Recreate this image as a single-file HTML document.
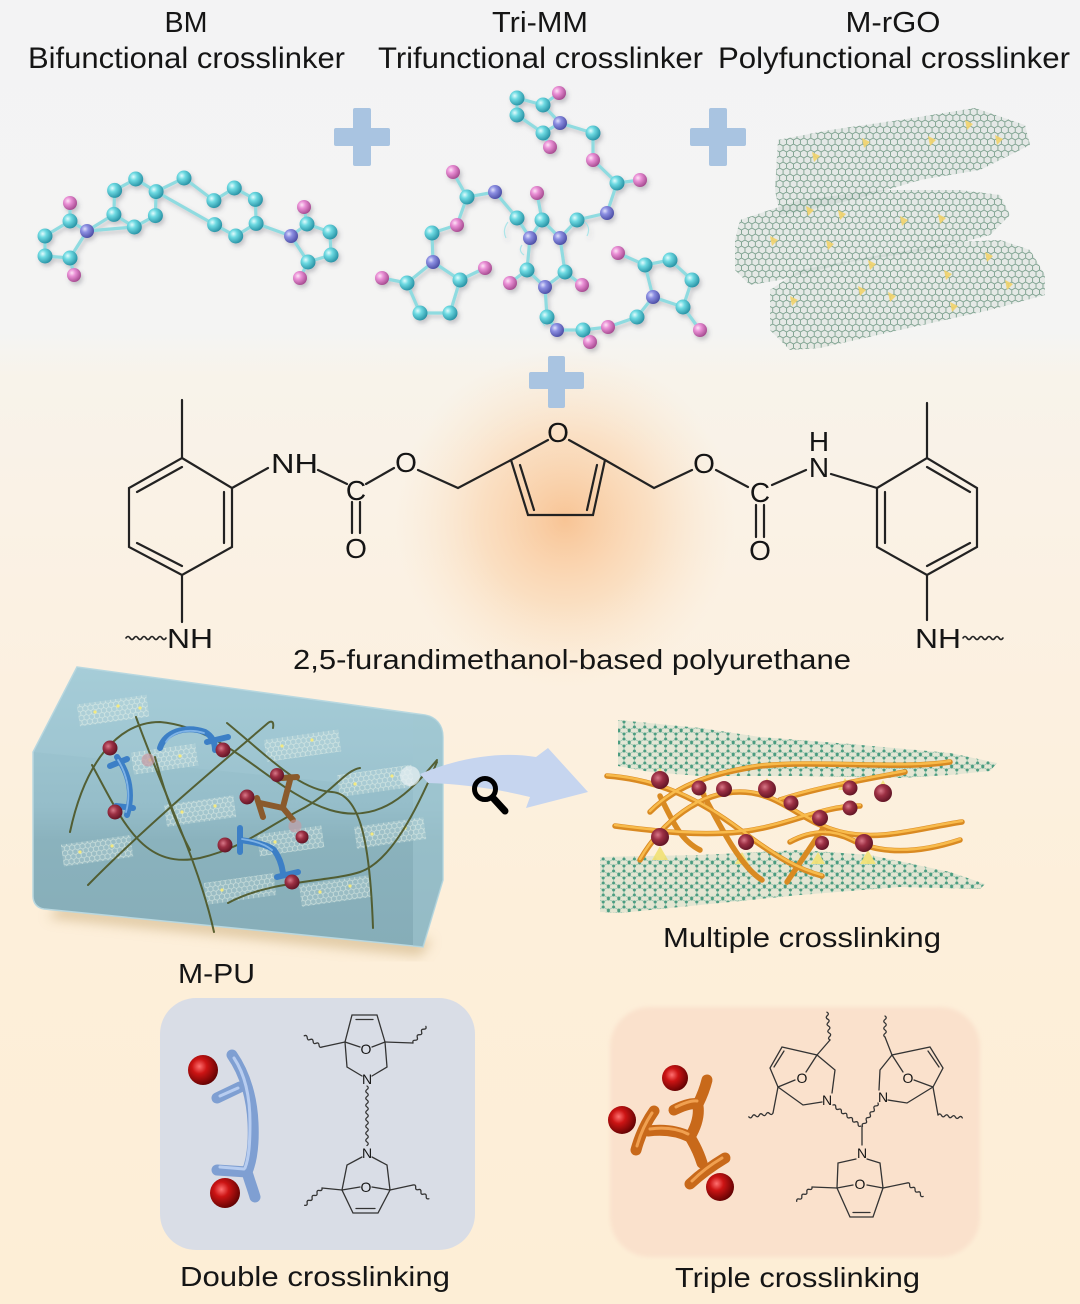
<!DOCTYPE html>
<html><head><meta charset="utf-8"><style>
html,body{margin:0;padding:0;background:#f4f4f4;}
svg{display:block;}
text{font-family:"Liberation Sans",Arial,sans-serif;fill:#151515;}
</style></head><body>
<svg width="1080" height="1304" viewBox="0 0 1080 1304" xmlns="http://www.w3.org/2000/svg">
<defs>
<linearGradient id="bg" x1="0" y1="0" x2="0" y2="1">
<stop offset="0" stop-color="#f3f3f4"/><stop offset="0.255" stop-color="#f4f4f3"/>
<stop offset="0.29" stop-color="#f8f3ea"/><stop offset="0.45" stop-color="#fbf1e3"/>
<stop offset="0.7" stop-color="#fdefda"/><stop offset="1" stop-color="#fdeed6"/>
</linearGradient>
<radialGradient id="glow" cx="565" cy="520" r="170" gradientUnits="userSpaceOnUse">
<stop offset="0" stop-color="#f8bf8c" stop-opacity="0.9"/><stop offset="0.5" stop-color="#fad0a6" stop-opacity="0.55"/>
<stop offset="1" stop-color="#fbe3c6" stop-opacity="0"/>
</radialGradient>
<radialGradient id="gc" cx=".35" cy=".35" r=".7"><stop offset="0" stop-color="#e2fcfd"/><stop offset=".35" stop-color="#6edae2"/><stop offset="1" stop-color="#2590a3"/></radialGradient>
<radialGradient id="gp" cx=".35" cy=".35" r=".7"><stop offset="0" stop-color="#fde4f6"/><stop offset=".35" stop-color="#ea90d6"/><stop offset="1" stop-color="#a4488e"/></radialGradient>
<radialGradient id="gv" cx=".35" cy=".35" r=".7"><stop offset="0" stop-color="#e0e0fb"/><stop offset=".35" stop-color="#8c8fe2"/><stop offset="1" stop-color="#4a4ca4"/></radialGradient>
<radialGradient id="gr" cx=".38" cy=".38" r=".7"><stop offset="0" stop-color="#ff7070"/><stop offset=".35" stop-color="#cc1414"/><stop offset="1" stop-color="#560000"/></radialGradient>
<radialGradient id="gm" cx=".38" cy=".38" r=".7"><stop offset="0" stop-color="#d87888"/><stop offset=".4" stop-color="#9c3044"/><stop offset="1" stop-color="#581020"/></radialGradient>
<linearGradient id="boxg" x1="0" y1="0" x2="0" y2="1">
<stop offset="0" stop-color="#a4ccd7"/><stop offset="0.5" stop-color="#95bdc9"/><stop offset="0.62" stop-color="#8ab2bd"/><stop offset="1" stop-color="#86adb8"/>
</linearGradient>
<pattern id="hex" width="6.93" height="12" patternUnits="userSpaceOnUse">
<path d="M0,2 L3.46,0 L6.93,2 M0,2 L0,6 L3.46,8 L6.93,6 L6.93,2 M3.46,8 L3.46,12" fill="none" stroke="#7a9f8c" stroke-width="0.9"/>
</pattern>
<pattern id="hexw" width="5.2" height="9" patternUnits="userSpaceOnUse">
<path d="M0,1.5 L2.6,0 L5.2,1.5 M0,1.5 L0,4.5 L2.6,6 L5.2,4.5 L5.2,1.5 M2.6,6 L2.6,9" fill="none" stroke="#e8f3ea" stroke-width="0.7"/>
</pattern>
<pattern id="dots" width="10.4" height="12" patternUnits="userSpaceOnUse">
<path d="M0,2 L5.2,-1 L10.4,2 M0,2 L0,7 L5.2,10 L10.4,7 L10.4,2 M5.2,10 L5.2,13" fill="none" stroke="#8cc0aa" stroke-width="0.7"/>
<circle cx="0" cy="2" r="1.5" fill="#4b9c80"/><circle cx="10.4" cy="2" r="1.5" fill="#4b9c80"/>
<circle cx="0" cy="7" r="1.5" fill="#4b9c80"/><circle cx="10.4" cy="7" r="1.5" fill="#4b9c80"/>
<circle cx="5.2" cy="10" r="1.5" fill="#4b9c80"/><circle cx="5.2" cy="-1" r="1.5" fill="#4b9c80"/><circle cx="5.2" cy="11" r="1.5" fill="#4b9c80"/>
</pattern>
<filter id="sh" x="-20%" y="-20%" width="140%" height="140%"><feDropShadow dx="2" dy="3" stdDeviation="2" flood-color="#556" flood-opacity="0.3"/></filter>
<filter id="blur6"><feGaussianBlur stdDeviation="6"/></filter>
<filter id="blur2"><feGaussianBlur stdDeviation="2"/></filter>
</defs>

<rect x="0" y="0" width="1080" height="1304" fill="url(#bg)"/>
<circle cx="565" cy="520" r="170" fill="url(#glow)"/>

<!-- Headers -->
<text x="186" y="32" font-size="29" text-anchor="middle" textLength="43" lengthAdjust="spacingAndGlyphs">BM</text>
<text x="28" y="68" font-size="30" textLength="317" lengthAdjust="spacingAndGlyphs">Bifunctional crosslinker</text>
<text x="540" y="32" font-size="29" text-anchor="middle" textLength="96" lengthAdjust="spacingAndGlyphs">Tri-MM</text>
<text x="378" y="68" font-size="30" textLength="325" lengthAdjust="spacingAndGlyphs">Trifunctional crosslinker</text>
<text x="893" y="32" font-size="29" text-anchor="middle" textLength="95" lengthAdjust="spacingAndGlyphs">M-rGO</text>
<text x="718" y="68" font-size="30" textLength="352" lengthAdjust="spacingAndGlyphs">Polyfunctional crosslinker</text>

<!-- Plus signs -->
<g fill="#a9c4e1">
<rect x="334" y="128" width="56" height="18" rx="2"/><rect x="353" y="108" width="18" height="58" rx="2"/>
<rect x="690" y="128" width="56" height="18" rx="2"/><rect x="709" y="108" width="18" height="58" rx="2"/>
<rect x="529" y="372" width="55" height="17" rx="2"/><rect x="548" y="356" width="17" height="52" rx="2"/>
</g>

<!-- BM molecule -->
<g filter="url(#sh)">
<g stroke="#8fdbe0" stroke-width="3.2" fill="none" stroke-linecap="round">
<path d="M87,231 L70,221 L45,236 L45,256 L70,258 Z M70,221 L70,203 M70,258 L74,275"/>
<path d="M87,231 L113.9,214.4 L114.6,190.4 L135.7,179 L156.1,191.6 L155.4,215.6 L134.3,227 Z M113.9,214.4 L134.3,227"/>
<path d="M156.1,191.6 L184,178 L213.9,200.6 L234.3,188 L255.4,199.4 L256.1,223.4 L235.7,236 L214.6,224.6 Z M256.1,223.4 L291,236"/>
<path d="M291,236 L307,224 L330,232 L331,255 L308,262 Z M307,224 L304,207 M308,262 L300,278"/>
</g>
<g fill="url(#gc)">
<circle cx="70" cy="221" r="7.5"/><circle cx="45" cy="236" r="7.5"/><circle cx="45" cy="256" r="7.5"/><circle cx="70" cy="258" r="7.5"/>
<circle cx="113.9" cy="214.4" r="7.5"/><circle cx="114.6" cy="190.4" r="7.5"/><circle cx="135.7" cy="179" r="7.5"/><circle cx="156.1" cy="191.6" r="7.5"/><circle cx="155.4" cy="215.6" r="7.5"/><circle cx="134.3" cy="227" r="7.5"/>
<circle cx="184" cy="178" r="7.5"/>
<circle cx="213.9" cy="200.6" r="7.5"/><circle cx="234.3" cy="188" r="7.5"/><circle cx="255.4" cy="199.4" r="7.5"/><circle cx="256.1" cy="223.4" r="7.5"/><circle cx="235.7" cy="236" r="7.5"/><circle cx="214.6" cy="224.6" r="7.5"/>
<circle cx="307" cy="224" r="7.5"/><circle cx="330" cy="232" r="7.5"/><circle cx="331" cy="255" r="7.5"/><circle cx="308" cy="262" r="7.5"/>
</g>
<g fill="url(#gp)"><circle cx="70" cy="203" r="7"/><circle cx="74" cy="275" r="7"/><circle cx="304" cy="207" r="7"/><circle cx="300" cy="278" r="7"/></g>
<g fill="url(#gv)"><circle cx="87" cy="231" r="7"/><circle cx="291" cy="236" r="7"/></g>
</g>

<!-- Tri-MM molecule -->
<g filter="url(#sh)">
<g stroke="#8fdbe0" stroke-width="3.2" fill="none" stroke-linecap="round">
<path d="M530,238 L542,220 L560,238 L565,272 L545,287 L527,270 Z M542,220 L537,193 M565,272 L582,285 M527,270 L510,283"/>
<path d="M530,238 L517,218 L495,192 L467,197 L457,225 L432,233 L433,262 M467,197 L453,172 M433,262 L460,280 L450,313 L420,313 L407,283 Z M460,280 L485,268 M407,283 L382,278"/>
<path d="M560,238 L577,220 L607,213 L617,183 L593,160 L593,133 L560,123 M617,183 L640,180 M560,123 L543,105 L517,98 L517,115 L543,133 Z M543,105 L559,93 M543,133 L550,147"/>
<path d="M545,287 L547,317 L557,330 L583,330 L608,327 L637,317 L653,297 M583,330 L590,342 M653,297 L645,265 L670,260 L692,280 L683,307 Z M645,265 L618,253 M683,307 L700,330"/>
</g>
<g fill="none" stroke="#8fe0e6" stroke-width="1.2" opacity="0.7">
<path d="M508,222 q-6,8 -2,16 M522,245 q-4,6 2,10 M585,222 q6,6 2,14 M543,312 q-4,8 2,14"/>
</g>
<g fill="url(#gc)">
<circle cx="542" cy="220" r="7.5"/><circle cx="565" cy="272" r="7.5"/><circle cx="527" cy="270" r="7.5"/>
<circle cx="517" cy="218" r="7.5"/><circle cx="467" cy="197" r="7.5"/><circle cx="432" cy="233" r="7.5"/>
<circle cx="460" cy="280" r="7.5"/><circle cx="450" cy="313" r="7.5"/><circle cx="420" cy="313" r="7.5"/><circle cx="407" cy="283" r="7.5"/>
<circle cx="577" cy="220" r="7.5"/><circle cx="617" cy="183" r="7.5"/><circle cx="593" cy="133" r="7.5"/>
<circle cx="543" cy="105" r="7.5"/><circle cx="517" cy="98" r="7.5"/><circle cx="517" cy="115" r="7.5"/><circle cx="543" cy="133" r="7.5"/>
<circle cx="547" cy="317" r="7.5"/><circle cx="583" cy="330" r="7.5"/><circle cx="637" cy="317" r="7.5"/>
<circle cx="645" cy="265" r="7.5"/><circle cx="670" cy="260" r="7.5"/><circle cx="692" cy="280" r="7.5"/><circle cx="683" cy="307" r="7.5"/>
</g>
<g fill="url(#gp)">
<circle cx="537" cy="193" r="7"/><circle cx="582" cy="285" r="7"/><circle cx="510" cy="283" r="7"/>
<circle cx="453" cy="172" r="7"/><circle cx="457" cy="225" r="7"/><circle cx="485" cy="268" r="7"/><circle cx="382" cy="278" r="7"/>
<circle cx="640" cy="180" r="7"/><circle cx="593" cy="160" r="7"/><circle cx="559" cy="93" r="7"/><circle cx="550" cy="147" r="7"/>
<circle cx="590" cy="342" r="7"/><circle cx="608" cy="327" r="7"/><circle cx="618" cy="253" r="7"/><circle cx="700" cy="330" r="7"/>
</g>
<g fill="url(#gv)">
<circle cx="530" cy="238" r="7"/><circle cx="560" cy="238" r="7"/><circle cx="545" cy="287" r="7"/>
<circle cx="495" cy="192" r="7"/><circle cx="433" cy="262" r="7"/><circle cx="607" cy="213" r="7"/><circle cx="560" cy="123" r="7"/>
<circle cx="557" cy="330" r="7"/><circle cx="653" cy="297" r="7"/>
</g>
</g>

<!-- M-rGO sheets -->
<g>
<path d="M778,140 L830,130 L900,120 L975,108 L1025,125 L1030,145 L980,170 L920,180 L860,198 L800,212 L780,215 L775,190 Z" fill="#7aa08c" fill-opacity="0.12"/>
<path d="M778,140 L830,130 L900,120 L975,108 L1025,125 L1030,145 L980,170 L920,180 L860,198 L800,212 L780,215 L775,190 Z" fill="url(#hex)"/>
<path d="M740,220 L800,200 L880,190 L960,190 L1000,195 L1010,215 L990,235 L930,250 L850,262 L780,280 L750,285 L735,270 L735,240 Z" fill="#7aa08c" fill-opacity="0.12"/>
<path d="M740,220 L800,200 L880,190 L960,190 L1000,195 L1010,215 L990,235 L930,250 L850,262 L780,280 L750,285 L735,270 L735,240 Z" fill="url(#hex)"/>
<path d="M770,290 L800,270 L880,255 L960,242 L1000,240 L1030,250 L1045,275 L1045,295 L990,310 L900,330 L820,348 L790,350 L770,330 Z" fill="#7aa08c" fill-opacity="0.12"/>
<path d="M770,290 L800,270 L880,255 L960,242 L1000,240 L1030,250 L1045,275 L1045,295 L990,310 L900,330 L820,348 L790,350 L770,330 Z" fill="url(#hex)"/>
</g>
<g fill="#f2d36c" opacity="0.9">
<path d="M812,152 l8,4 l-6,6 z"/><path d="M862,138 l8,4 l-6,6 z"/><path d="M928,136 l8,4 l-6,6 z"/><path d="M965,120 l8,4 l-6,6 z"/><path d="M995,135 l8,4 l-6,6 z"/>
<path d="M806,206 l8,4 l-6,6 z"/><path d="M838,210 l8,4 l-6,6 z"/><path d="M900,216 l8,4 l-6,6 z"/><path d="M938,214 l8,4 l-6,6 z"/>
<path d="M770,236 l8,4 l-6,6 z"/><path d="M826,240 l8,4 l-6,6 z"/><path d="M868,260 l8,4 l-6,6 z"/><path d="M944,270 l8,4 l-6,6 z"/><path d="M985,252 l8,4 l-6,6 z"/>
<path d="M790,296 l8,4 l-6,6 z"/><path d="M858,286 l8,4 l-6,6 z"/><path d="M888,292 l8,4 l-6,6 z"/><path d="M950,302 l8,4 l-6,6 z"/><path d="M1005,280 l8,4 l-6,6 z"/>
</g>

<!-- Main polyurethane structure -->
<g stroke="#222" stroke-width="2.2" fill="none" stroke-linecap="round">
<path d="M182,458 L232,488 L232,547 L182,575 L129,547 L129,488 Z M182,458 L182,400 M182,575 L182,622"/>
<path d="M137,492 L182,467 M224,492 L224,543 M137,543 L182,566"/>
<path d="M232,488 L268,468 M318,470 L347,484 M352,502 L352,533 M360,502 L360,533 M366,484 L394,468 M418,470 L458,488 L511,460"/>
<path d="M548,440 L511,460 L528,515 L593,515 L605,460 L569,440 M520,465 L534,510 M587,510 L597,465"/>
<path d="M605,460 L654,488 L692,470 M716,470 L748,487 M756,505 L756,537 M764,505 L764,537 M772,485 L806,470 M831,474 L877,488"/>
<path d="M877,488 L927,458 L977,488 L977,547 L927,575 L877,547 Z M927,458 L927,403 M927,575 L927,620"/>
<path d="M927,467 L970,492 M970,543 L927,566 M885,492 L885,543"/>
<path d="M126,638 q2,-3 4,0 t4,0 t4,0 t4,0 t4,0 t4,0 t4,0 t4,0 t4,0 t4,0" stroke-width="1.6"/>
<path d="M963,638 q2,-3 4,0 t4,0 t4,0 t4,0 t4,0 t4,0 t4,0 t4,0 t4,0 t4,0" stroke-width="1.6"/>
</g>
<g font-size="28">
<text x="271" y="473" textLength="47" lengthAdjust="spacingAndGlyphs">NH</text>
<text x="356" y="500" text-anchor="middle">C</text>
<text x="356" y="558" text-anchor="middle">O</text>
<text x="406" y="472" text-anchor="middle">O</text>
<text x="558" y="442" text-anchor="middle">O</text>
<text x="704" y="473" text-anchor="middle">O</text>
<text x="760" y="502" text-anchor="middle">C</text>
<text x="760" y="560" text-anchor="middle">O</text>
<text x="819" y="477" text-anchor="middle">N</text>
<text x="819" y="451" text-anchor="middle">H</text>
<text x="167" y="648" textLength="46" lengthAdjust="spacingAndGlyphs">NH</text>
<text x="915" y="648" textLength="46" lengthAdjust="spacingAndGlyphs">NH</text>
</g>
<text x="293" y="669" font-size="28" textLength="558" lengthAdjust="spacingAndGlyphs">2,5-furandimethanol-based polyurethane</text>

<!-- M-PU box -->
<path d="M48,918 L420,956 L432,940 L60,905 Z" fill="#d8bf95" filter="url(#blur6)" opacity="0.8"/>
<path d="M77,667 L425,715 C436,717 443,725 443,737 L443,880 L423,947 L44,909 C37,908 33,903 33,896 L33,752 Z" fill="url(#boxg)" stroke="#b9d8e0" stroke-width="1.5"/>
<path d="M413,714 L425,715 C436,717 443,725 443,737 L443,880 L423,947 L413,946 Z" fill="#a3c9d3" opacity="0.5"/>
<path d="M33,752 L77,667 L413,714 L413,790 Z" fill="#acd1dc" opacity="0.25"/>
<!-- graphene patches -->
<g opacity="0.75">
<g transform="rotate(-8 110 710)"><rect x="78" y="700" width="70" height="22" fill="#cfe3e0" fill-opacity="0.35"/><rect x="78" y="700" width="70" height="22" fill="url(#hexw)"/></g>
<g transform="rotate(-8 165 758)"><rect x="132" y="748" width="65" height="22" fill="#cfe3e0" fill-opacity="0.35"/><rect x="132" y="748" width="65" height="22" fill="url(#hexw)"/></g>
<g transform="rotate(-8 300 745)"><rect x="265" y="735" width="75" height="22" fill="#cfe3e0" fill-opacity="0.35"/><rect x="265" y="735" width="75" height="22" fill="url(#hexw)"/></g>
<g transform="rotate(-8 375 780)"><rect x="338" y="770" width="75" height="22" fill="#cfe3e0" fill-opacity="0.35"/><rect x="338" y="770" width="75" height="22" fill="url(#hexw)"/></g>
<g transform="rotate(-8 200 810)"><rect x="165" y="800" width="70" height="22" fill="#cfe3e0" fill-opacity="0.35"/><rect x="165" y="800" width="70" height="22" fill="url(#hexw)"/></g>
<g transform="rotate(-8 95 850)"><rect x="62" y="840" width="70" height="22" fill="#cfe3e0" fill-opacity="0.35"/><rect x="62" y="840" width="70" height="22" fill="url(#hexw)"/></g>
<g transform="rotate(-8 290 840)"><rect x="258" y="830" width="65" height="22" fill="#cfe3e0" fill-opacity="0.35"/><rect x="258" y="830" width="65" height="22" fill="url(#hexw)"/></g>
<g transform="rotate(-8 390 832)"><rect x="355" y="822" width="70" height="22" fill="#cfe3e0" fill-opacity="0.35"/><rect x="355" y="822" width="70" height="22" fill="url(#hexw)"/></g>
<g transform="rotate(-8 240 888)"><rect x="205" y="878" width="70" height="22" fill="#cfe3e0" fill-opacity="0.35"/><rect x="205" y="878" width="70" height="22" fill="url(#hexw)"/></g>
<g transform="rotate(-8 335 890)"><rect x="300" y="880" width="70" height="22" fill="#cfe3e0" fill-opacity="0.35"/><rect x="300" y="880" width="70" height="22" fill="url(#hexw)"/></g>
</g>
<g fill="#f4ea80">
<circle cx="95" cy="712" r="1.6"/><circle cx="118" cy="706" r="1.6"/><circle cx="140" cy="708" r="1.6"/><circle cx="150" cy="760" r="1.6"/><circle cx="180" cy="756" r="1.6"/>
<circle cx="282" cy="746" r="1.6"/><circle cx="312" cy="740" r="1.6"/><circle cx="355" cy="784" r="1.6"/><circle cx="392" cy="776" r="1.6"/>
<circle cx="182" cy="812" r="1.6"/><circle cx="215" cy="806" r="1.6"/><circle cx="80" cy="852" r="1.6"/><circle cx="112" cy="846" r="1.6"/>
<circle cx="275" cy="842" r="1.6"/><circle cx="372" cy="834" r="1.6"/><circle cx="405" cy="828" r="1.6"/><circle cx="222" cy="890" r="1.6"/><circle cx="320" cy="892" r="1.6"/><circle cx="350" cy="886" r="1.6"/>
</g>
<!-- chains -->
<g fill="none" stroke="#4c5524" stroke-width="2" stroke-linecap="round" opacity="0.9">
<path d="M88,885 C150,822 225,760 268,723 C272,720 274,722 273,728"/>
<path d="M70,832 C85,762 118,722 160,722 C228,728 272,792 330,810 C380,825 410,792 437,760"/>
<path d="M92,765 C122,820 142,870 200,858 C242,848 262,830 300,810 C330,795 345,770 360,768"/>
<path d="M136,717 C162,790 198,860 214,932"/>
<path d="M227,723 C272,760 300,790 332,792 C360,794 370,842 373,928"/>
<path d="M228,903 C270,880 330,882 360,872 C390,862 416,812 437,762"/>
<path d="M155,757 C166,798 178,828 190,850"/>
</g>
<!-- linkers in box -->
<g fill="none" stroke-linecap="round">
<g stroke="#3c7fc6" stroke-width="6">
<path d="M117,757 C130,775 133,795 127,815"/><path d="M110,766 L127,759"/><path d="M116,806 L133,808"/>
<path d="M160,748 C165,732 185,725 205,732 C212,736 215,742 215,750"/><path d="M207,742 L228,737"/>
<path d="M240,828 L240,852"/><path d="M240,840 C255,842 268,845 274,850 C280,858 282,866 283,873"/><path d="M277,877 L298,872"/>
</g>
<g stroke="#7fb3e6" stroke-width="1.8">
<path d="M118,760 C128,776 131,795 126,812"/><path d="M166,742 C172,732 188,728 204,733"/><path d="M242,839 C256,841 266,845 272,850"/>
</g>
<g stroke="#8a5a2c" stroke-width="6">
<path d="M282,778 L297,777"/><path d="M290,780 L283,807"/><path d="M260,803 L283,808"/><path d="M257,798 L263,817"/><path d="M283,808 L293,820"/>
</g>
</g>
<g fill="url(#gm)">
<circle cx="110" cy="748" r="7.5"/><circle cx="115" cy="812" r="7.5"/><circle cx="223" cy="750" r="7.5"/><circle cx="277" cy="775" r="7"/>
<circle cx="247" cy="797" r="7.5"/><circle cx="225" cy="845" r="7.5"/><circle cx="292" cy="882" r="7.5"/><circle cx="302" cy="837" r="6.5"/>
</g>
<circle cx="148" cy="760" r="6.5" fill="#c89aa2" opacity="0.7"/><circle cx="295" cy="826" r="6.5" fill="#c89aa2" opacity="0.6"/>
<circle cx="410" cy="776" r="10" fill="#e6eff2" opacity="0.75"/>

<!-- arrow & magnifier -->
<path d="M420,774 C458,758 500,751 536,757 L548,748 L588,792 L526,808 L530,797 C498,789 462,784 428,783 Z" fill="#c6d5ef"/>
<circle cx="485" cy="789" r="10.5" fill="none" stroke="#000" stroke-width="5"/>
<path d="M494,799 L505,811" stroke="#000" stroke-width="7" stroke-linecap="round"/>

<!-- Right illustration: multiple crosslinking -->
<path d="M618,720 L700,728 L760,737 L850,744 L950,753 L997,763 L990,771 L950,775 L900,778 L800,776 L700,776 L650,772 L618,766 Z" fill="#9cc8b6" fill-opacity="0.25"/>
<path d="M618,720 L700,728 L760,737 L850,744 L950,753 L997,763 L990,771 L950,775 L900,778 L800,776 L700,776 L650,772 L618,766 Z" fill="url(#dots)"/>
<path d="M600,857 L700,855 L800,850 L870,855 L950,872 L985,884 L980,889 L900,887 L800,895 L700,905 L620,913 L600,912 Z" fill="#9cc8b6" fill-opacity="0.25"/>
<path d="M600,857 L700,855 L800,850 L870,855 L950,872 L985,884 L980,889 L900,887 L800,895 L700,905 L620,913 L600,912 Z" fill="url(#dots)"/>
<g fill="#f2e27a" opacity="0.95">
<path d="M660,768 l-8,14 l16,0 z"/><path d="M700,782 l-7,12 l14,0 z"/><path d="M767,778 l-8,14 l16,0 z"/><path d="M845,778 l-7,12 l14,0 z"/><path d="M883,780 l-8,14 l16,0 z"/>
<path d="M660,846 l-8,14 l16,0 z"/><path d="M742,852 l-7,12 l14,0 z"/><path d="M818,852 l-7,12 l14,0 z"/><path d="M868,850 l-8,14 l16,0 z"/>
</g>
<g fill="none" stroke-linecap="round">
<g stroke="#d98a22" stroke-width="5.5">
<path d="M607,776 C660,780 700,800 740,830 C780,860 800,870 822,876"/>
<path d="M650,812 C680,782 720,772 760,766 C820,760 900,770 950,762"/>
<path d="M615,826 C660,832 700,836 740,832 C790,826 820,806 860,806"/>
<path d="M640,860 C662,822 700,792 740,792 C780,792 800,822 840,832 C880,842 920,828 962,822"/>
<path d="M702,792 C722,830 742,868 762,880"/>
<path d="M780,800 C810,790 850,782 905,772"/>
<path d="M790,842 C812,830 832,830 852,840 C872,850 905,858 960,840"/>
<path d="M787,882 L822,830"/>
<path d="M660,796 C672,820 680,840 700,850"/>
</g>
<g stroke="#f8bb4c" stroke-width="2.5">
<path d="M607,775 C660,779 700,799 740,829 C780,859 800,869 822,875"/>
<path d="M650,811 C680,781 720,771 760,765 C820,759 900,769 950,761"/>
<path d="M615,825 C660,831 700,835 740,831 C790,825 820,805 860,805"/>
<path d="M640,859 C662,821 700,791 740,791 C780,791 800,821 840,831 C880,841 920,827 962,821"/>
<path d="M780,799 C810,789 850,781 905,771"/>
<path d="M790,841 C812,829 832,829 852,839 C872,849 905,857 960,839"/>
</g>
</g>
<g fill="url(#gm)">
<circle cx="660" cy="780" r="9"/><circle cx="699" cy="788" r="7.5"/><circle cx="724" cy="789" r="8"/><circle cx="767" cy="789" r="9"/>
<circle cx="791" cy="803" r="7.5"/><circle cx="850" cy="788" r="7.5"/><circle cx="883" cy="793" r="9"/><circle cx="850" cy="808" r="7.5"/>
<circle cx="820" cy="818" r="8"/><circle cx="660" cy="837" r="9"/><circle cx="746" cy="842" r="8"/><circle cx="864" cy="843" r="9"/><circle cx="822" cy="843" r="7"/>
</g>
<text x="663" y="947" font-size="28" textLength="278" lengthAdjust="spacingAndGlyphs">Multiple crosslinking</text>
<text x="178" y="983" font-size="28" textLength="77" lengthAdjust="spacingAndGlyphs">M-PU</text>

<!-- Bottom left panel -->
<rect x="160" y="998" width="315" height="252" rx="36" fill="#d9dde6"/>
<g fill="none" stroke-linecap="round">
<path d="M232,1055 C246,1075 252,1100 253,1123 C254,1145 252,1160 247,1172 C250,1182 253,1190 255,1197" stroke="#7f9fd2" stroke-width="11"/>
<path d="M240,1087 L217,1098 M247,1172 L217,1170" stroke="#7f9fd2" stroke-width="11"/>
<path d="M234,1058 C246,1076 250,1100 250,1123 C250,1143 249,1158 245,1168" stroke="#b8cdf0" stroke-width="3"/>
<path d="M238,1088 L220,1096 M244,1169 L220,1167" stroke="#b8cdf0" stroke-width="3"/>
</g>
<circle cx="203" cy="1070" r="15" fill="url(#gr)"/>
<circle cx="225" cy="1193" r="15" fill="url(#gr)"/>
<g stroke="#333" stroke-width="1.3" fill="none" stroke-linecap="round">
<path d="M345,1042 L352,1015 L377,1015 L385,1042 M356,1019.5 L373,1019.5"/>
<path d="M345,1042 L360,1047 M385,1042 L372,1047"/>
<path d="M345,1042 L347,1067 L362,1076 M385,1042 L387,1067 L372,1076"/>
<path d="M362,1157 L347,1165 L342,1190 L353,1213 L378,1213 L390,1190 L387,1165 L372,1157 M356,1208.5 L375,1208.5"/>
<path d="M342,1190 L360,1187 M390,1190 L372,1187"/>
<path d="M345,1042 L322,1047 M385,1042 L413,1043 M342,1190 L322,1188 M390,1190 L413,1185"/>
<path transform="translate(322,1047) rotate(212.3)" d="M0,0 q1.75,-2.5 3.5,0 t3.5,0 t3.5,0 t3.5,0 t3.5,0 t3.5,0"/>
<path transform="translate(413,1043) rotate(-52.1)" d="M0,0 q1.75,-2.5 3.5,0 t3.5,0 t3.5,0 t3.5,0 t3.5,0 t3.5,0"/>
<path transform="translate(367,1086) rotate(90)" d="M0,0 q1.75,-2.5 3.5,0 t3.5,0 t3.5,0 t3.5,0 t3.5,0 t3.5,0 t3.5,0 t3.5,0 t3.5,0 t3.5,0 t3.5,0 t3.5,0 t3.5,0 t3.5,0 t3.5,0 t3.5,0 t3.5,0"/>
<path transform="translate(322,1188) rotate(135)" d="M0,0 q1.75,-2.5 3.5,0 t3.5,0 t3.5,0 t3.5,0 t3.5,0 t3.5,0 t3.5,0"/>
<path transform="translate(413,1185) rotate(40.9)" d="M0,0 q1.75,-2.5 3.5,0 t3.5,0 t3.5,0 t3.5,0 t3.5,0 t3.5,0"/>
</g>
<g font-size="14" text-anchor="middle">
<text x="366" y="1054">O</text><text x="367" y="1084">N</text><text x="367" y="1158">N</text><text x="366" y="1192">O</text>
</g>
<text x="180" y="1286" font-size="28" textLength="270" lengthAdjust="spacingAndGlyphs">Double crosslinking</text>

<!-- Bottom right panel -->
<rect x="610" y="1007" width="370" height="250" rx="40" fill="#fae1cc" filter="url(#blur2)"/>
<g fill="none" stroke-linecap="round">
<g stroke="#c8691a" stroke-width="11">
<path d="M636,1150 Q642,1128 654,1111"/><path d="M648,1131 Q672,1128 690,1137"/><path d="M690,1137 Q700,1120 698,1106"/>
<path d="M674,1110 Q690,1102 698,1104 Q704,1092 707,1080"/><path d="M690,1137 Q698,1150 702,1163"/><path d="M690,1184 Q705,1170 725,1158"/>
</g>
<g stroke="#f0a050" stroke-width="3">
<path d="M637,1146 Q642,1128 652,1113"/><path d="M650,1129 Q672,1126 688,1134"/><path d="M676,1107 Q690,1100 697,1101"/><path d="M692,1181 Q705,1168 722,1158"/>
</g>
</g>
<circle cx="675" cy="1078" r="13" fill="url(#gr)"/>
<circle cx="622" cy="1120" r="14" fill="url(#gr)"/>
<circle cx="720" cy="1187" r="14" fill="url(#gr)"/>
<g stroke="#333" stroke-width="1.3" fill="none" stroke-linecap="round">
<path d="M778,1087 L770,1068 L782,1047 L817,1055 L835,1070 L832,1093 M822,1102 L803,1105 L778,1087 M774,1067 L784,1051"/>
<path d="M817,1055 L806,1072 M778,1087 L795,1080"/>
<path d="M933,1087 L943,1068 L930,1047 L892,1055 L880,1070 L879,1090 M888,1100 L907,1103 L933,1087 M939,1067 L928,1051"/>
<path d="M892,1055 L903,1072 M933,1087 L914,1080"/>
<path d="M817,1055 L830,1040 M778,1087 L773,1113 M892,1055 L885,1037 M933,1087 L938,1115"/>
<path d="M856,1159 L838,1163 L837,1188 L850,1217 L873,1217 L883,1188 L880,1163 L867,1159 M853,1212.5 L870,1212.5"/>
<path d="M837,1188 L853,1185 M883,1188 L867,1185 M837,1188 L812,1187 M883,1188 L907,1183"/>
<path transform="translate(830,1040) rotate(-96.3)" d="M0,0 q1.75,-2.5 3.5,0 t3.5,0 t3.5,0 t3.5,0 t3.5,0 t3.5,0 t3.5,0 t3.5,0"/>
<path transform="translate(773,1113) rotate(170.9)" d="M0,0 q1.75,-2.5 3.5,0 t3.5,0 t3.5,0 t3.5,0 t3.5,0 t3.5,0 t3.5,0"/>
<path transform="translate(885,1037) rotate(-90)" d="M0,0 q1.75,-2.5 3.5,0 t3.5,0 t3.5,0 t3.5,0 t3.5,0 t3.5,0"/>
<path transform="translate(938,1115) rotate(6.8)" d="M0,0 q1.75,-2.5 3.5,0 t3.5,0 t3.5,0 t3.5,0 t3.5,0 t3.5,0 t3.5,0"/>
<path transform="translate(833,1105) rotate(37.2)" d="M0,0 q1.75,-2.5 3.5,0 t3.5,0 t3.5,0 t3.5,0 t3.5,0 t3.5,0 t3.5,0 t3.5,0 t3.5,0 t3.5,0"/>
<path transform="translate(878,1103) rotate(123.7)" d="M0,0 q1.75,-2.5 3.5,0 t3.5,0 t3.5,0 t3.5,0 t3.5,0 t3.5,0 t3.5,0 t3.5,0"/>
<path d="M862,1127 L862,1145"/>
<path transform="translate(812,1187) rotate(136.7)" d="M0,0 q1.75,-2.5 3.5,0 t3.5,0 t3.5,0 t3.5,0 t3.5,0 t3.5,0"/>
<path transform="translate(907,1183) rotate(39.8)" d="M0,0 q1.75,-2.5 3.5,0 t3.5,0 t3.5,0 t3.5,0 t3.5,0 t3.5,0"/>
</g>
<g font-size="14" text-anchor="middle">
<text x="802" y="1083">O</text><text x="827" y="1105">N</text>
<text x="908" y="1083">O</text><text x="883" y="1102">N</text>
<text x="862" y="1158">N</text><text x="860" y="1189">O</text>
</g>
<text x="675" y="1287" font-size="28" textLength="245" lengthAdjust="spacingAndGlyphs">Triple crosslinking</text>
</svg>
</body></html>
